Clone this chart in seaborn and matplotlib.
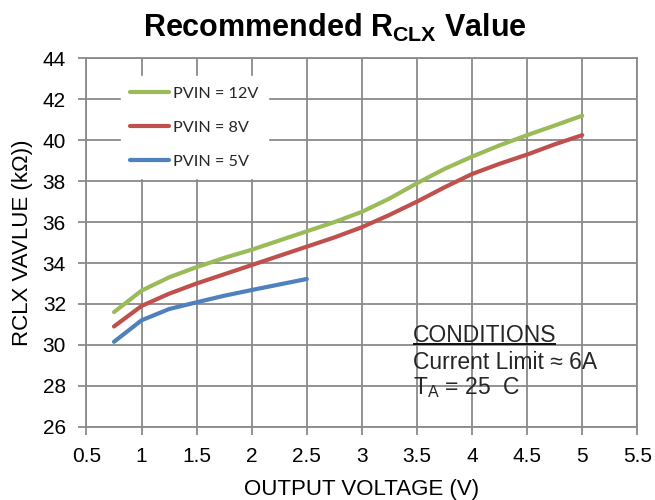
import numpy as np
import pandas as pd
import seaborn as sns
import matplotlib.pyplot as plt
from matplotlib.lines import Line2D

# Output voltage (V) and recommended RCLX (kOhm) for each PVIN
vout_12v = [0.75, 1.0, 1.25, 1.5, 1.75, 2.0, 2.25, 2.5, 2.75, 3.0, 3.25, 3.5, 3.75, 4.0, 4.25, 4.5, 4.75, 5.0]
rclx_12v = [31.6, 32.65, 33.3, 33.8, 34.25, 34.65, 35.1, 35.55, 36.0, 36.5, 37.15, 37.9, 38.6, 39.2, 39.75, 40.25, 40.72, 41.2]

vout_8v = [0.75, 1.0, 1.25, 1.5, 1.75, 2.0, 2.25, 2.5, 2.75, 3.0, 3.25, 3.5, 3.75, 4.0, 4.25, 4.5, 4.75, 5.0]
rclx_8v = [30.9, 31.9, 32.5, 33.0, 33.45, 33.9, 34.35, 34.8, 35.25, 35.75, 36.35, 37.0, 37.7, 38.35, 38.85, 39.3, 39.8, 40.25]

vout_5v = [0.75, 1.0, 1.25, 1.5, 1.75, 2.0, 2.25, 2.5]
rclx_5v = [30.15, 31.2, 31.75, 32.08, 32.4, 32.68, 32.95, 33.22]

series_labels = ["PVIN = 12V", "PVIN = 8V", "PVIN = 5V"]
series_colors = ["#9BBB59", "#C0504D", "#4F81BD"]

x_ticks = [0.5, 1, 1.5, 2, 2.5, 3, 3.5, 4, 4.5, 5, 5.5]
x_tick_labels = ["0.5", "1", "1.5", "2", "2.5", "3", "3.5", "4", "4.5", "5", "5.5"]
y_ticks = [26, 28, 30, 32, 34, 36, 38, 40, 42, 44]

df = pd.concat([
    pd.DataFrame({"vout": vout_12v, "rclx": rclx_12v, "pvin": series_labels[0]}),
    pd.DataFrame({"vout": vout_8v, "rclx": rclx_8v, "pvin": series_labels[1]}),
    pd.DataFrame({"vout": vout_5v, "rclx": rclx_5v, "pvin": series_labels[2]}),
], ignore_index=True)

sns.set_theme(style="white")
plt.rcParams["font.family"] = ["Liberation Sans", "DejaVu Sans"]
plt.rcParams["mathtext.fontset"] = "custom"
plt.rcParams["mathtext.rm"] = "Liberation Sans"
plt.rcParams["mathtext.it"] = "Liberation Sans"
plt.rcParams["mathtext.bf"] = "Liberation Sans:bold"

fig = plt.figure(figsize=(6.55, 5.0), dpi=100)
ax = fig.add_axes([0.132, 0.1466, 0.841, 0.7366])

grid_color = "#8a8a8a"

sns.lineplot(data=df, x="vout", y="rclx", hue="pvin", hue_order=series_labels,
             palette=series_colors, linewidth=3.0, ax=ax, legend=False,
             sort=True, estimator=None)
for ln in ax.get_lines():
    ln.set_solid_capstyle("round")
    ln.set_solid_joinstyle("round")

ax.set_xlim(0.5, 5.5)
ax.set_ylim(26, 44)
ax.set_xticks(x_ticks)
ax.set_xticklabels(x_tick_labels)
ax.set_yticks(y_ticks)
ax.grid(True, color=grid_color, linewidth=1.3)
ax.set_axisbelow(True)
for s in ax.spines.values():
    s.set_color(grid_color)
    s.set_linewidth(1.3)
ax.tick_params(axis="both", which="major", length=5.8, width=1.3, color=grid_color,
               labelsize=15, labelcolor="black", direction="out",
               bottom=True, left=True)
ax.tick_params(axis="x", pad=9)
ax.tick_params(axis="y", pad=9)

ax.set_xlabel("OUTPUT VOLTAGE (V)", fontsize=16, color="black", labelpad=9)
ax.set_ylabel("RCLX VAVLUE (k\u03a9))", fontsize=16, color="black", labelpad=7)

fig.text(0.511, 0.927, r"Recommended R$_{\mathbf{CLX}}$ Value", ha="center",
         va="baseline", fontsize=22, fontweight="bold", color="black")

handles = [Line2D([0], [0], color=c, linewidth=3.0, solid_capstyle="round")
           for c in series_colors]
leg = ax.legend(handles, series_labels, loc="upper left",
                bbox_to_anchor=(0.062, 0.951), frameon=True, fancybox=False,
                framealpha=1.0, edgecolor="white", facecolor="white",
                prop={"family": "Lato", "size": 11.7}, handlelength=2.4,
                handletextpad=0.2, labelspacing=1.21, borderpad=0.6,
                borderaxespad=0.0)

cond_x = 0.592
ax.text(cond_x, 0.231, "CONDITIONS", transform=ax.transAxes, fontsize=16.5,
        va="baseline", ha="left")
ax.plot([cond_x, cond_x + 0.26], [0.225, 0.225], transform=ax.transAxes,
        color="black", linewidth=1.3, solid_capstyle="butt")
ax.text(cond_x, 0.158, "Current Limit \u2248 6A", transform=ax.transAxes,
        fontsize=16.5, va="baseline", ha="left")
ax.text(cond_x, 0.088, r"T$_\mathrm{A}$ = 25  C", transform=ax.transAxes,
        fontsize=16.5, va="baseline", ha="left")

fig.savefig("out.png", dpi=100)
